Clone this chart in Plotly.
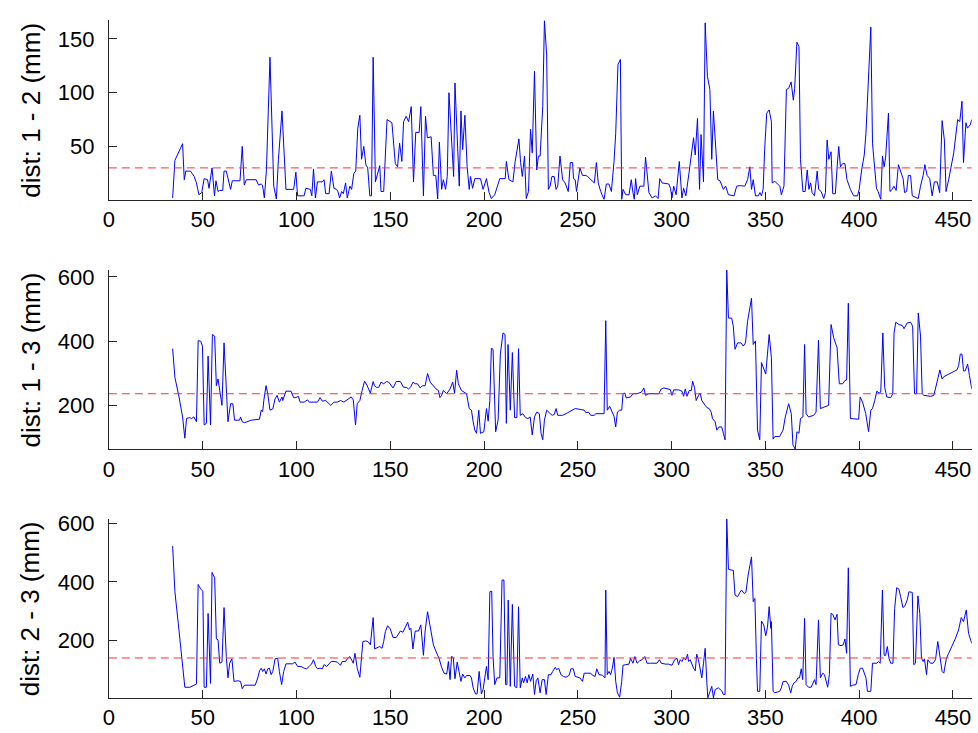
import plotly.graph_objects as go

# ---------------- data (frame index, distance in mm) ----------------
x12 = [34.0,35.2,39.3,40.2,41.0,43.5,45.5,46.7,48.0,49.5,50.8,52.6,53.4,55.0,56.3,57.1,58.2,59.0,60.7,61.4,62.6,64.9,65.8,69.9,71.1,72.2,73.3,78.5,79.8,81.2,81.9,82.9,84.0,84.9,85.9,87.9,89.3,90.4,92.3,94.4,98.5,99.7,100.6,104.1,105.0,107.4,108.2,109.1,110.1,111.2,113.8,114.7,115.6,117.4,118.6,120.0,121.4,122.1,123.0,124.1,125.0,126.2,127.1,128.5,129.4,130.6,131.6,132.7,133.8,134.7,135.9,137.0,138.0,139.1,140.0,140.9,142.1,144.4,145.1,146.5,148.3,150.9,152.7,153.9,155.0,156.2,157.1,158.5,159.8,161.2,162.4,163.6,165.4,166.3,167.7,168.8,169.8,171.8,173.0,174.3,175.3,176.2,177.4,178.3,179.5,180.4,181.3,183.8,184.5,186.8,187.7,188.6,189.8,191.0,192.1,192.8,193.9,195.1,198.1,199.5,201.3,202.7,203.9,205.7,206.9,208.4,211.3,211.9,213.3,215.4,216.6,217.5,218.6,219.5,220.4,221.6,222.5,223.7,224.8,225.7,226.9,228.1,229.0,229.9,231.3,232.2,233.4,234.3,235.2,236.2,237.4,238.4,239.3,240.5,241.9,243.2,244.9,246.0,247.2,247.7,248.6,249.3,251.1,252.5,254.3,255.2,256.4,257.8,258.8,259.9,260.9,262.2,264.0,265.2,266.6,267.9,269.3,270.2,271.4,272.7,273.4,274.1,275.6,277.3,278.5,279.4,280.1,280.8,281.7,283.1,285.2,286.1,287.0,287.9,289.6,291.4,292.8,293.7,294.9,298.5,299.4,300.2,301.1,302.4,304.1,305.5,306.4,307.6,309.4,311.7,312.6,313.8,314.9,315.7,317.0,317.9,319.1,320.4,321.4,322.3,324.6,325.8,327.6,328.8,330.3,333.3,334.7,336.4,339.0,340.5,341.7,342.6,343.5,344.7,346.2,347.1,347.9,348.8,349.6,350.7,352.0,353.2,353.6,355.0,357.7,358.5,359.9,361.2,362.4,363.7,364.9,365.6,366.8,367.9,368.7,370.0,371.2,372.3,373.2,374.1,374.9,376.2,377.6,378.4,379.7,381.1,382.0,382.9,383.8,385.0,385.9,387.3,388.2,389.1,390.0,391.2,392.4,393.5,395.3,397.0,399.1,400.0,401.3,402.7,403.6,405.0,406.2,407.1,409.2,410.1,411.5,412.4,413.3,414.1,415.6,416.4,417.6,418.5,419.7,420.9,422.2,423.4,424.2,425.3,426.2,427.4,428.3,431.5,432.7,434.1,435.0,436.2,437.6,438.9,440.1,441.6,442.9,444.2,445.4,446.3,447.7,449.0,450.4,452.5,453.6,454.8,455.6,456.9,457.7,459.2,460.0]
d12 = [2,37,52.5,19,27,27,22,16,5,7,20,19,11,30,4,18,8,9,9,27,27,10,18,18,50,14,19,19,14,15,14,2,28,70,133,13,1,38,83,10,10,26,4,4,11,10,4,29,2,17,17,19,6,6,27,11,10,8,2,8,6,16,2,13,10,25,27,67,79,38,50,33,30,4,4,133,17,32,8,8,75,72,34,31,53,36,73,78,73,87,17,63,63,87,4,78,58,59,23,23,1,54,10,19,10,22,100,22,109,13,83,47,79,31,10,22,11,20,20,10,20,7,1.5,5,11,20,20,36,19,17,36,44,57,35,22,41,1.5,8,66,44,120,28,41,41,87,167,135,10,13,22,22,10,13,41,19,16,8,35,35,20,19,8,30,23,23,22,20,18,16,35,16,8,0.5,15,15,8,36,62,126,131,0.5,10,5,5,19,7,0.5,20,5,13,13,40,19,7,2,4,1.5,20,16,15,11,2,13,5,36,2,11,4,27,58,42,76,10,61,17,165,115,103,38,83,19,18,10,13,5,4,13,13.5,13,19,31,10,19,4,4,7,4,10,47,81,84,73,16,17.5,13,5,13,103,104,110,93,104,147,143,38,8,8,28,10,16,7,4,27,10,8,1.5,7,56,38,45,6,6,30,50,31,34,34,19,10,4,4,10,28,42,62,110,161,53,11,8,0.5,41,31,40,81,8,10,13,9,33,27,20,7,8,23,23,4,1.5,13,23,33,23,20,4,17,17,7,74,56,8,19,31,44,75,73,92,35,72,67,70,75]

x13 = [34.0,35.2,37.4,39.3,40.5,41.4,43.1,44.0,45.3,46.7,47.6,49.0,49.9,50.8,52.0,52.9,54.2,55.2,56.4,57.3,58.2,59.0,60.3,61.4,62.6,63.5,64.9,66.1,67.0,69.7,70.2,71.1,72.3,75.9,80.3,81.2,82.0,82.6,83.8,84.7,85.9,87.4,88.6,89.7,90.9,92.3,92.7,94.4,97.1,98.5,99.7,101.0,102.0,104.1,105.9,106.8,111.2,112.6,113.8,115.6,118.3,120.0,121.8,123.5,125.3,127.1,129.2,130.3,131.5,132.4,133.8,135.0,136.3,137.7,139.4,140.9,141.6,142.6,143.9,145.1,146.5,148.0,149.2,151.5,153.2,155.4,157.1,158.5,159.8,161.0,162.1,163.3,164.5,166.0,167.2,168.6,169.9,171.3,172.7,174.4,175.7,176.5,177.4,178.3,180.1,181.9,183.3,184.3,185.4,186.3,188.0,189.8,190.7,192.1,193.3,194.2,195.1,196.0,197.2,198.1,199.9,201.3,202.2,203.1,203.9,204.8,206.2,207.5,208.7,210.1,211.2,211.9,212.8,214.0,215.1,216.3,217.5,218.4,219.3,220.7,222.1,223.4,224.6,225.7,226.9,228.1,229.5,230.4,231.3,232.2,233.4,234.8,236.3,237.5,238.4,239.3,241.9,244.6,247.2,248.6,251.6,253.4,254.3,255.7,256.9,258.7,259.6,264.0,264.9,265.7,267.0,268.0,269.3,270.2,271.1,272.3,273.4,274.1,275.1,275.8,278.1,279.4,281.6,283.9,285.2,286.1,287.8,293.1,294.5,295.8,298.1,299.3,300.2,301.1,303.7,305.5,306.4,307.3,308.2,309.4,310.5,311.2,312.2,313.1,314.4,315.2,316.1,317.0,317.9,318.8,320.0,321.1,321.8,323.2,324.1,325.3,326.7,327.6,328.5,329.4,330.3,332.0,332.9,333.8,335.2,337.0,338.2,339.4,340.5,341.7,342.6,343.5,344.7,345.8,347.0,347.9,349.3,350.2,351.1,352.0,353.2,354.1,355.0,357.6,359.4,360.6,362.4,363.8,364.7,365.9,366.8,367.9,368.7,370.0,370.9,371.7,373.0,375.8,377.0,378.3,379.3,381.5,383.7,385.0,386.4,388.2,389.4,391.2,392.4,393.3,394.2,395.3,397.4,399.7,400.5,401.8,403.5,405.0,406.2,407.1,408.3,409.4,410.6,411.5,412.6,413.6,414.7,416.8,417.9,418.6,419.5,421.2,423.0,423.9,425.6,427.4,428.5,429.5,430.6,431.5,432.7,433.6,434.5,438.0,439.8,440.7,441.6,442.1,443.0,444.2,445.1,446.9,449.5,452.1,453.0,453.9,454.8,455.6,456.5,457.8,458.8,460.0]
d13 = [377,288,227,165,99,160,163,160,165,150,402,400,385,140,145,354,140,421,416,262,283,252,201,395,237,150,206,206,155,155,165,150,147,155,158,186,181,216,262,237,186,190,221,232,211,227,216,245,245,225,225,229,211,211,218,211,211,225,214,216,201,211,211,216,211,218,227,218,140,206,216,247,276,262,239,275,262,257,257,273,268,275,273,255,275,275,257,257,252,259,273,268,268,255,262,262,300,273,262,252,247,225,232,247,237,252,273,239,310,268,247,239,237,191,186,150,124,114,186,114,119,191,152,216,378,375,119,155,360,426,421,145,390,186,365,163,163,377,170,175,163,160,165,109,165,180,175,114,94,155,186,178,170,173,191,170,170,178,186,191,188,186,178,180,170,170,175,175,464,186,198,186,167,134,180,186,186,237,239,224,227,237,237,242,255,232,237,237,252,255,252,250,232,249,249,245,229,252,229,247,247,276,257,216,232,239,216,206,201,194,191,180,160,150,124,134,134,114,94,621,472,472,447,375,395,395,385,395,462,503,534,390,401,124,94,334,314,298,360,421,349,96,104,104,124,165,206,175,78,65,119,114,160,165,390,175,165,170,180,403,191,196,201,452,411,380,268,268,278,280,518,160,158,158,227,211,175,119,186,191,216,245,239,242,426,257,227,225,237,426,459,452,449,439,457,459,447,237,237,488,416,237,232,229,232,252,268,288,311,283,290,296,303,311,324,360,360,308,308,329,293,252]

x23 = [34.0,35.2,37.0,38.8,40.5,43.2,44.1,45.3,46.7,47.6,49.0,50.1,50.8,52.0,52.9,54.2,55.0,56.4,57.3,58.2,59.1,60.3,61.4,62.6,63.5,64.4,65.6,66.7,68.8,70.2,71.1,72.3,74.1,76.8,78.0,79.4,80.3,81.2,82.0,82.9,83.8,84.7,85.6,86.5,87.4,88.6,90.0,90.9,92.1,93.2,94.4,97.9,99.2,100.6,102.4,104.1,105.4,106.8,108.0,109.1,110.3,111.2,112.6,113.8,114.7,116.1,117.4,118.6,120.0,121.8,123.5,124.4,126.2,127.1,128.5,129.2,130.3,131.2,132.4,133.8,134.5,135.4,136.8,138.1,139.4,140.9,141.7,143.0,144.4,145.6,146.5,147.4,148.6,150.0,151.5,153.2,154.5,155.4,156.8,158.0,159.3,160.3,161.0,162.1,163.3,165.1,166.3,167.7,168.6,169.9,171.3,173.0,174.8,176.0,177.4,178.7,180.1,181.0,181.9,182.7,183.6,184.5,185.7,186.8,187.7,188.6,189.8,190.7,192.5,193.3,194.2,195.5,196.3,197.4,198.6,199.5,201.3,202.2,203.1,204.1,204.8,205.7,206.9,208.4,209.6,210.6,211.5,212.2,212.9,214.0,215.1,216.3,217.5,218.4,219.3,220.4,221.1,222.1,223.0,223.9,224.8,226.0,226.9,227.8,228.7,229.9,231.0,232.2,233.1,234.3,235.7,236.6,238.0,238.7,239.8,241.0,242.3,243.7,245.4,246.3,247.6,248.6,249.9,251.1,252.5,253.4,256.9,257.8,259.2,260.1,261.3,263.1,264.5,264.9,265.7,266.6,267.5,268.4,269.3,270.2,271.1,272.3,273.4,274.1,275.5,277.3,278.1,279.4,280.4,281.6,282.9,284.3,285.7,286.9,288.7,292.2,293.5,294.5,296.7,298.4,300.2,301.6,302.9,303.7,304.6,305.5,306.4,307.6,308.5,309.0,309.9,310.8,311.7,312.6,313.4,314.3,315.2,316.1,317.0,317.9,318.8,319.3,320.5,321.4,322.3,323.2,324.9,326.7,327.6,328.5,329.4,330.3,332.0,332.9,333.8,335.2,336.4,337.3,338.7,339.6,340.8,341.7,342.6,343.5,344.4,345.2,345.8,347.0,347.9,349.1,350.2,351.1,352.0,352.9,353.2,354.1,355.0,357.6,358.5,359.4,361.2,362.4,363.5,364.3,365.2,366.4,367.3,368.2,369.1,369.9,370.9,371.7,373.0,374.4,375.3,376.2,377.0,378.3,379.3,380.6,381.5,382.3,383.2,384.1,385.0,385.9,387.1,388.2,388.9,390.3,391.5,392.4,393.3,394.2,395.3,396.5,398.3,399.5,400.6,401.8,402.7,403.6,404.4,406.2,407.1,408.3,409.4,410.3,411.2,412.4,413.3,414.1,415.0,415.9,416.8,418.0,418.9,420.0,421.2,422.1,423.3,424.4,425.6,426.5,428.3,429.1,430.0,431.3,432.3,433.2,434.1,434.8,435.9,436.6,438.0,439.4,440.7,441.9,443.0,444.2,445.1,446.5,447.7,449.5,451.2,453.0,454.4,455.6,457.1,458.3,459.6,460.0]
d23 = [522,366,258,139,40,40,43,47,51,391,375,368,40,40,292,53,432,414,205,202,122,126,312,145,72,122,137,60,62,60,35,47,47,47,47,72,96,105,94,103,85,103,105,83,94,137,139,94,49,94,120,120,126,111,111,105,103,111,119,134,111,103,105,103,117,111,122,128,128,126,115,128,128,137,145,134,122,156,105,74,139,196,198,196,185,278,171,176,179,173,196,230,250,239,210,210,224,232,228,247,262,236,241,171,232,232,253,149,232,298,241,185,156,139,108,88,85,128,66,145,142,69,126,94,60,85,72,80,80,72,38,17,17,94,17,32,111,66,366,368,145,49,72,72,406,406,49,49,338,43,323,43,38,315,38,72,55,77,55,83,60,85,15,62,72,21,66,66,15,83,83,94,108,100,105,83,77,74,81,103,103,77,74,72,60,88,88,81,77,103,83,81,72,372,83,94,83,105,142,60,21,6,60,115,117,119,139,122,145,122,130,134,145,122,122,122,134,122,119,119,115,134,139,117,134,128,139,134,153,128,134,117,105,96,153,134,105,72,122,173,55,4,26,43,4,32,38,28,15,15,615,443,440,439,355,349,364,372,360,364,423,457,485,332,343,139,26,26,266,253,216,244,315,241,264,26,21,26,38,60,60,47,21,43,55,60,72,72,103,66,275,49,40,40,55,66,49,270,72,88,83,60,40,83,292,289,270,289,185,182,185,205,156,448,43,47,49,83,105,105,88,72,26,26,122,122,122,128,122,372,149,149,179,139,122,122,309,380,375,349,312,318,338,366,364,117,122,352,292,139,128,137,83,134,122,122,134,196,139,94,88,139,156,179,205,236,278,264,304,224,196,190]

thresholds = [30, 237, 140]
y_titles = ["dist: 1 - 2 (mm)", "dist: 1 - 3 (mm)", "dist: 2 - 3 (mm)"]
y_ticks = [[50, 100, 150], [200, 400, 600], [200, 400, 600]]
y_ranges = [[0.5, 167.5], [65, 621], [3, 615]]
x_ticks = [0, 50, 100, 150, 200, 250, 300, 350, 400, 450]
x_range = [0, 460]

W, H = 978, 733
x_dom = [103.5 / W, 971.7 / W]
y_px = [(12.3, 193.7), (265.0, 446.0), (516.5, 697.7)]
y_doms = [[1 - b / H, 1 - t / H] for t, b in y_px]

series = [(x12, d12), (x13, d13), (x23, d23)]

FONT = "Liberation Sans, Arial, Helvetica, sans-serif"
AX = "#262626"

fig = go.Figure()
annotations = []
for i, (xs, ys) in enumerate(series):
    n = "" if i == 0 else str(i + 1)
    fig.add_trace(go.Scatter(x=xs, y=ys, mode="lines",
                             line=dict(color="#0000ff", width=1),
                             xaxis="x" + n, yaxis="y" + n, showlegend=False,
                             hoverinfo="skip"))
    fig.add_trace(go.Scatter(x=x_range, y=[thresholds[i]] * 2, mode="lines",
                             line=dict(color="#ff3030", width=1, dash="8px,5px"),
                             xaxis="x" + n, yaxis="y" + n, showlegend=False,
                             hoverinfo="skip"))
    common = dict(showline=True, linecolor=AX, linewidth=1, ticks="inside",
                  ticklen=8, tickwidth=1, tickcolor=AX, showgrid=False,
                  zeroline=False, tickfont=dict(family=FONT, size=22, color="black"))
    fig.layout["xaxis" + n] = dict(domain=x_dom, range=x_range, tickvals=x_ticks,
                                   anchor="y" + n, ticklabelstandoff=0, **common)
    fig.layout["yaxis" + n] = dict(domain=y_doms[i], range=y_ranges[i],
                                   tickvals=y_ticks[i], anchor="x" + n,
                                   ticklabelstandoff=9, **common)
    t, b = y_px[i]
    annotations.append(dict(text=y_titles[i], xref="paper", yref="paper",
                            x=25 / W, y=1 - ((t + b) / 2) / H, showarrow=False,
                            textangle=-90, xanchor="center", yanchor="middle",
                            font=dict(family=FONT, size=26, color="black")))

fig.update_layout(width=W, height=H, margin=dict(l=0, r=0, t=0, b=0),
                  paper_bgcolor="white", plot_bgcolor="white",
                  annotations=annotations)

fig.write_html("out.html")
